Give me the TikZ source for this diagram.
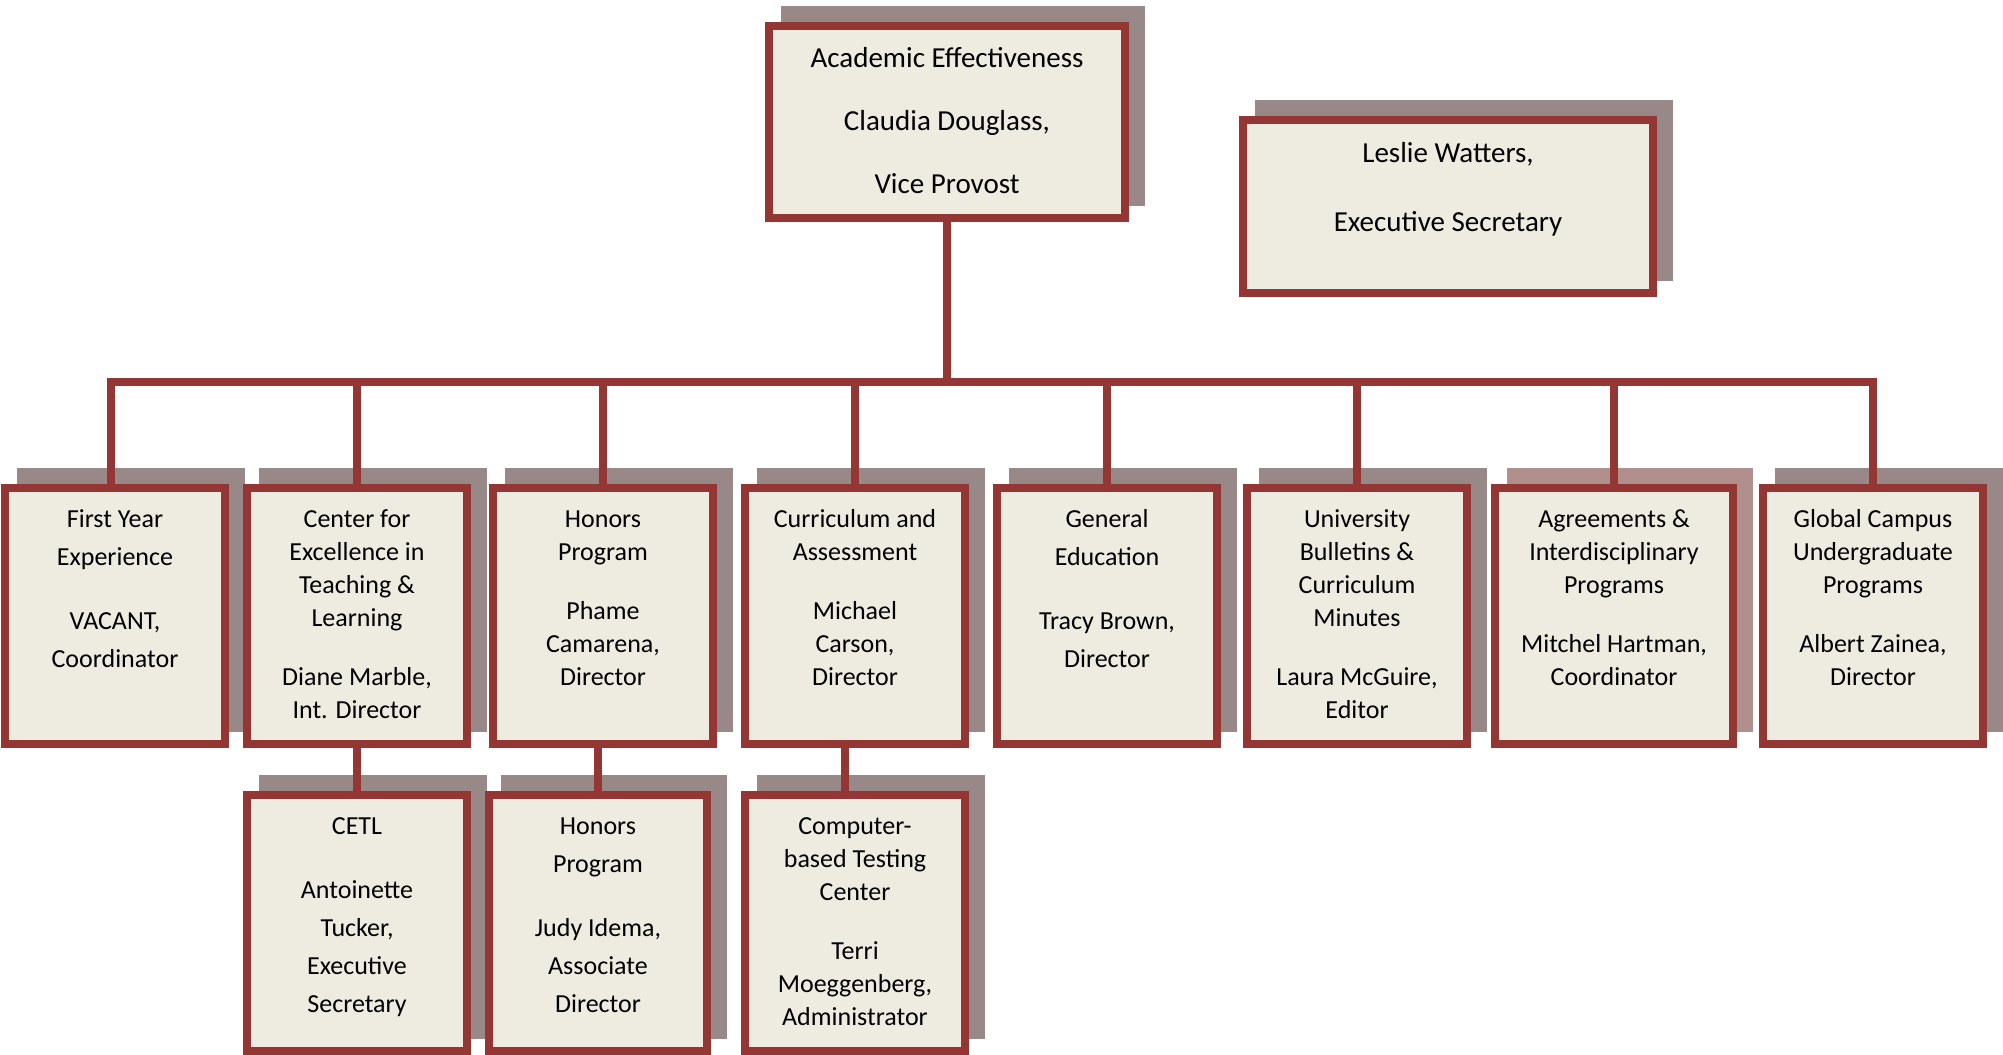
\documentclass[tikz,border=0pt]{standalone}
\usepackage{fontspec}
\setmainfont{Carlito}
\usetikzlibrary{shadows}
\definecolor{chartred}{RGB}{148,54,52}
\definecolor{chartfill}{RGB}{238,236,225}
\definecolor{shadowgray}{RGB}{152,136,136}
\definecolor{shadowrose}{RGB}{176,143,141}
\newcommand{\orgtext}[4][39pt]{\parbox[c][#3][t]{#2}{\centering\rule{0pt}{#1}#4}}

\begin{document}
\begin{tikzpicture}[x=1pt,y=-1pt,
  orgbox/.style={draw=chartred, line width=8pt, fill=chartfill, inner sep=0pt,
    drop shadow={shadow xshift=16pt, shadow yshift=16pt, opacity=1, fill=#1, draw=#1}},
  orgbox/.default=shadowgray,
  headlines/.style={font=\fontsize{29}{35}\selectfont},
  denselines/.style={font=\fontsize{26}{33}\selectfont},
  widelines/.style={font=\fontsize{26}{38}\selectfont},
  conn/.style={draw=chartred, line width=8pt}]
\useasboundingbox (0,0) rectangle (2003,1055);

% top row
\node[orgbox, headlines] (vp) at (947,122)
  {\orgtext[41.5pt]{356pt}{192pt}{Academic Effectiveness\\[28.4pt]Claudia Douglass,\\[27.6pt]Vice Provost}};
\node[orgbox, headlines] (sec) at (1448,206.5)
  {\orgtext[42pt]{410pt}{173pt}{Leslie Watters,\\[34.5pt]Executive Secretary}};

% units
\node[orgbox, widelines] (fye) at (115,616)
  {\orgtext{220pt}{256pt}{First Year\\Experience\\[26pt]VACANT,\\Coordinator}};
\node[orgbox, denselines] (cetl) at (357,616)
  {\orgtext{220pt}{256pt}{Center for\\Excellence in\\Teaching \&\\Learning\\[26pt]Diane Marble,\\Int. Director}};
\node[orgbox, denselines] (hon) at (603,616)
  {\orgtext{220pt}{256pt}{Honors\\Program\\[26pt]Phame\\Camarena,\\Director}};
\node[orgbox, denselines] (cur) at (855,616)
  {\orgtext{220pt}{256pt}{Curriculum and\\Assessment\\[26pt]Michael\\Carson,\\Director}};
\node[orgbox, widelines] (gen) at (1107,616)
  {\orgtext{220pt}{256pt}{General\\Education\\[26pt]Tracy Brown,\\Director}};
\node[orgbox, denselines] (bul) at (1357,616)
  {\orgtext{220pt}{256pt}{University\\Bulletins \&\\Curriculum\\Minutes\\[26pt]Laura McGuire,\\Editor}};
\node[orgbox=shadowrose, denselines] (agr) at (1614,616)
  {\orgtext{238pt}{256pt}{Agreements \&\\Interdisciplinary\\Programs\\[26pt]Mitchel Hartman,\\Coordinator}};
\node[orgbox, denselines] (glo) at (1873,616)
  {\orgtext{220pt}{256pt}{Global Campus\\Undergraduate\\Programs\\[26pt]Albert Zainea,\\Director}};

% sub-units
\node[orgbox, widelines] (cetlsec) at (357,923)
  {\orgtext{220pt}{256pt}{CETL\\[26pt]Antoinette\\Tucker,\\Executive\\Secretary}};
\node[orgbox, widelines] (honassoc) at (598,923)
  {\orgtext{218pt}{256pt}{Honors\\Program\\[26pt]Judy Idema,\\Associate\\Director}};
\node[orgbox, denselines] (cbtc) at (855,923)
  {\orgtext{220pt}{256pt}{Computer-\\based Testing\\Center\\[26pt]Terri\\Moeggenberg,\\Administrator}};

% connectors
\coordinate (bus) at (947,382);
\draw[conn] (vp.south) -- (bus);
\draw[conn] ([xshift=-4pt]fye.north) |- (bus);
\foreach \unit in {cetl,hon,cur,gen,bul,agr,glo}
  \draw[conn] (\unit.north) |- (bus);
\draw[conn] (cetlsec.north) -- (cetlsec.north |- cetl.south);
\draw[conn] (honassoc.north) -- (honassoc.north |- hon.south);
\draw[conn] ([xshift=-10pt]cbtc.north) -- ([xshift=-10pt]cbtc.north |- cur.south);
\end{tikzpicture}
\end{document}
